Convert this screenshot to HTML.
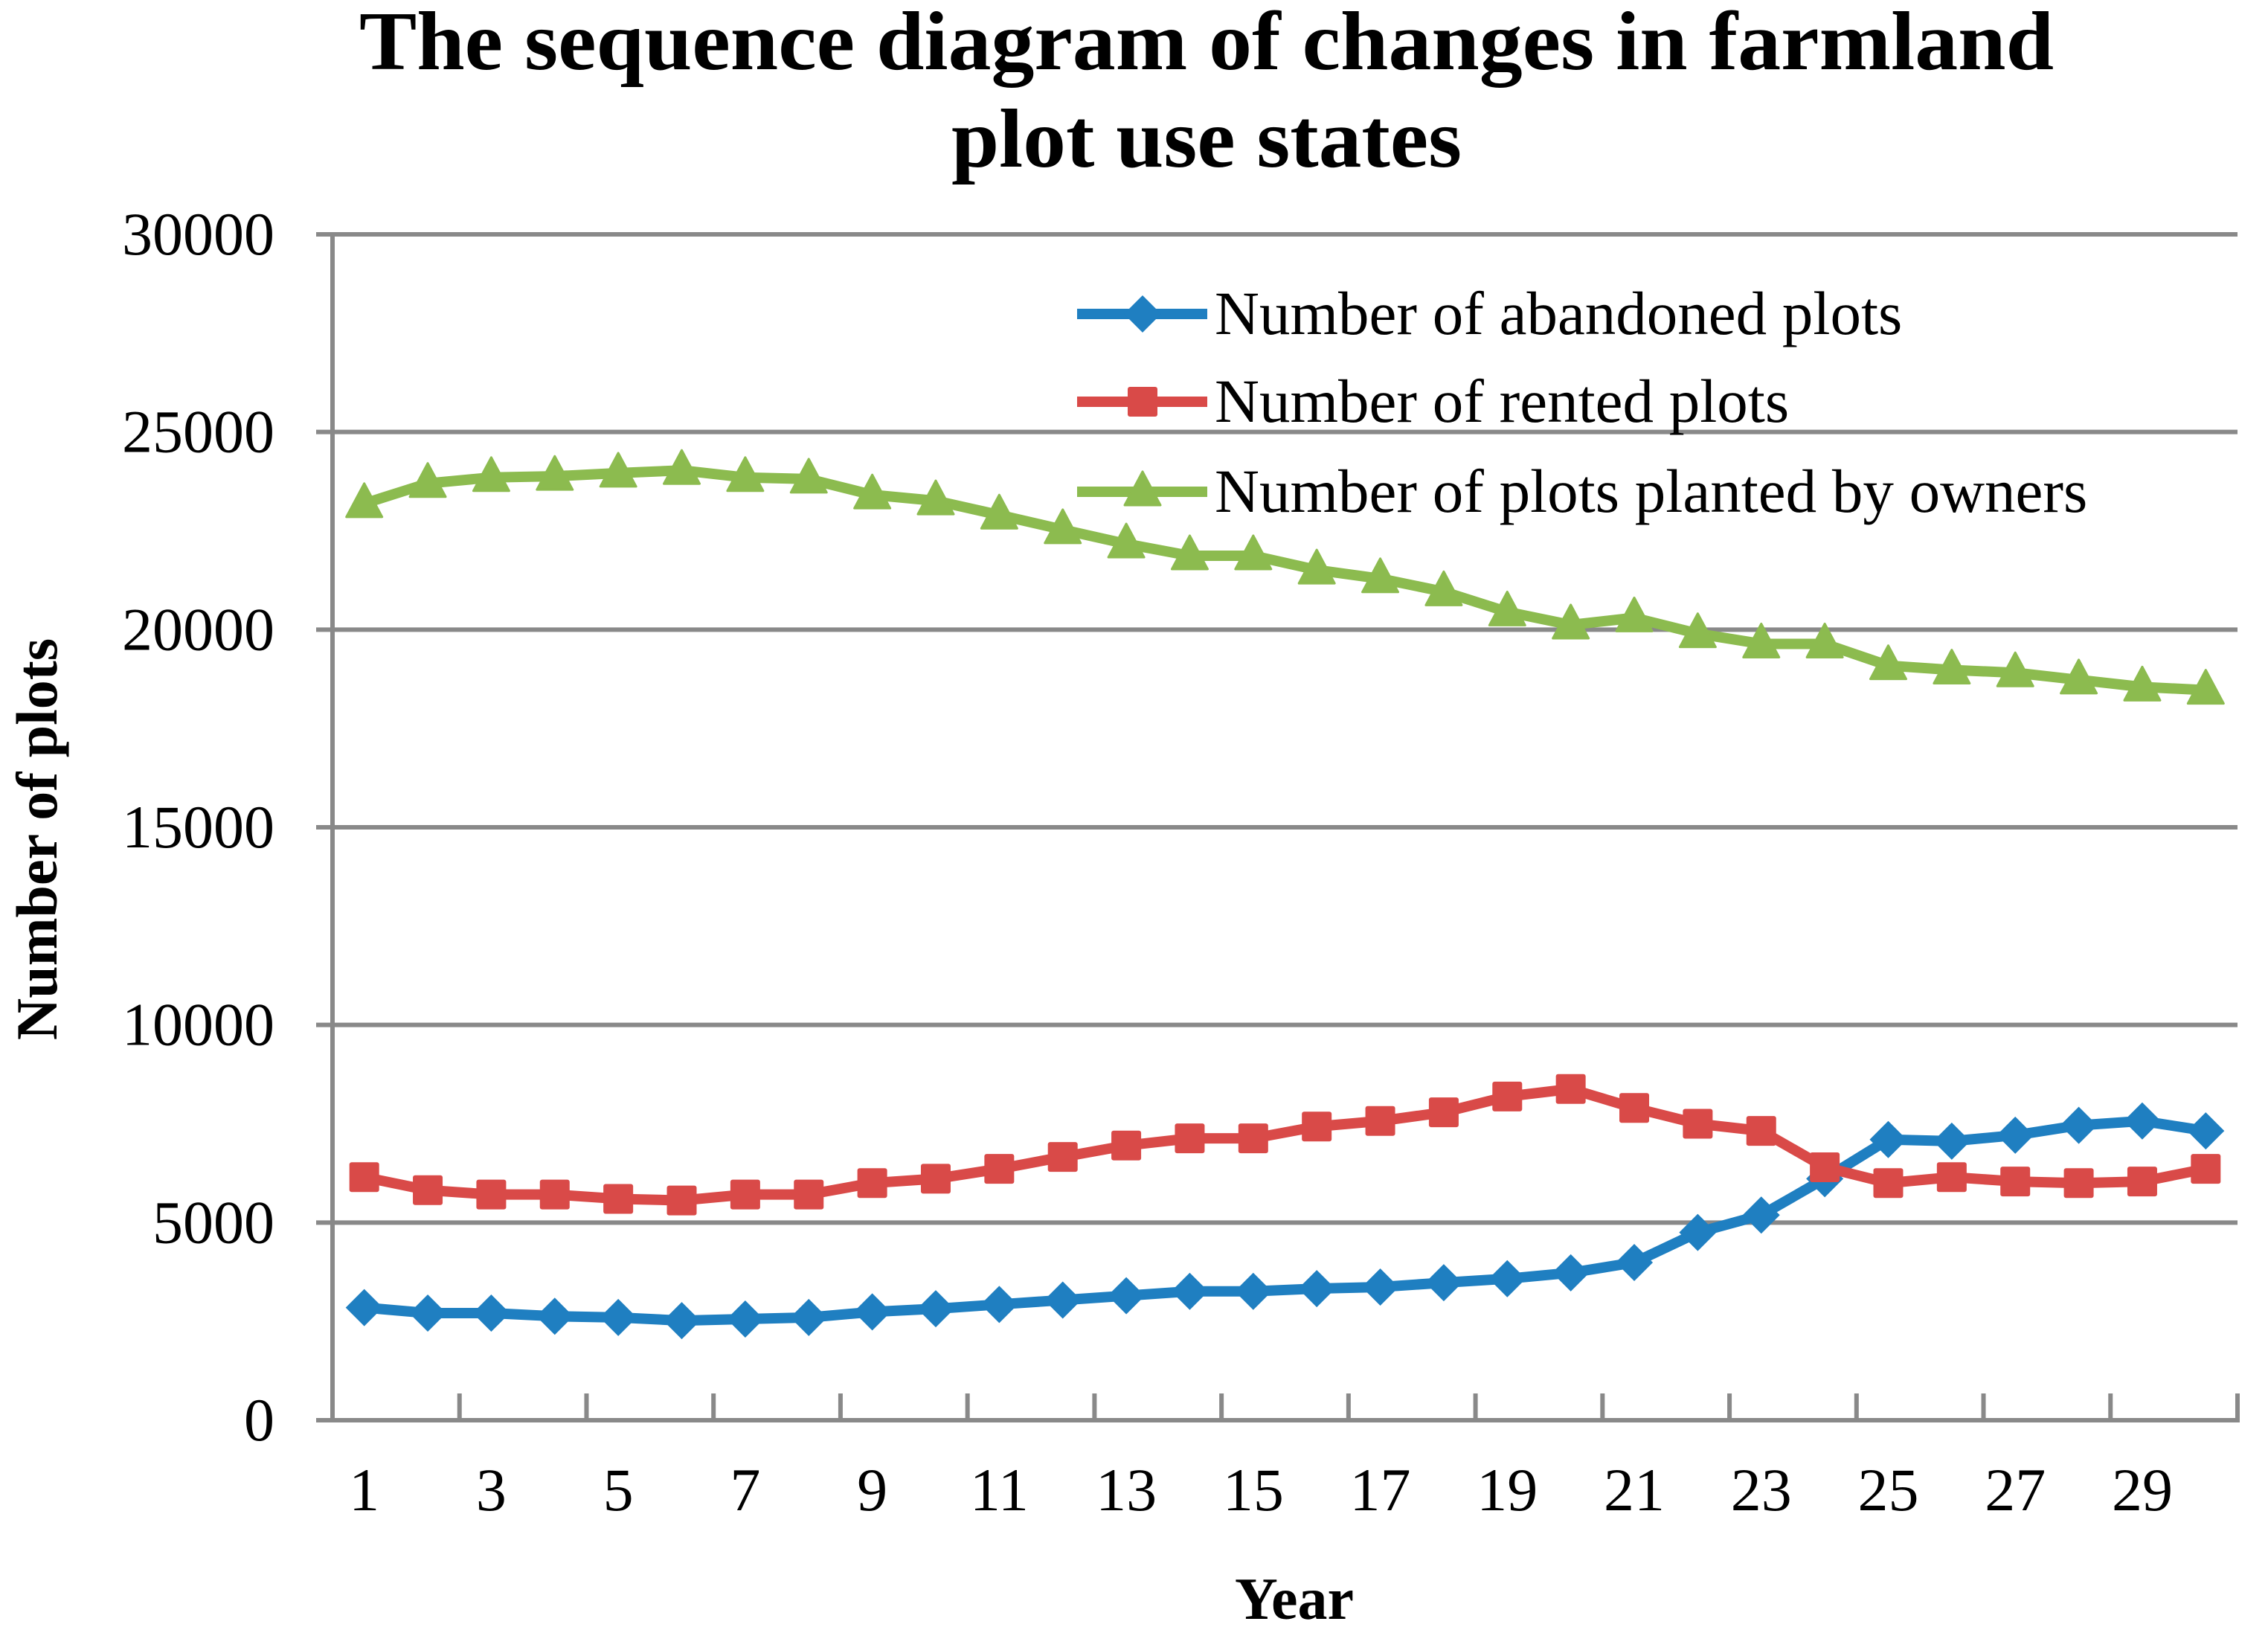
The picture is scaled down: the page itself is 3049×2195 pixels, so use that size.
<!DOCTYPE html>
<html><head><meta charset="utf-8"><style>
html,body{margin:0;padding:0;background:#fff}
svg{display:block}
text{font-family:"Liberation Serif",serif;fill:#000}
</style></head><body>
<svg id="chart" width="3049" height="2195" viewBox="0 0 3049 2195" xmlns="http://www.w3.org/2000/svg">
<text x="1622" y="93" text-anchor="middle" font-size="112" font-weight="bold" textLength="2278" lengthAdjust="spacingAndGlyphs">The sequence diagram of changes in farmland</text>
<text x="1622" y="224" text-anchor="middle" font-size="112" font-weight="bold" textLength="686" lengthAdjust="spacingAndGlyphs">plot use states</text>
<g id="grid"></g>
<g id="axes"></g>
<g id="series"></g>
<text transform="translate(76,1128) rotate(-90)" text-anchor="middle" font-size="78" font-weight="bold">Number of plots</text>
<text x="1740" y="2176" text-anchor="middle" font-size="80" font-weight="bold">Year</text>
<g id="legend"></g>
</svg>
<script>
const categories = [1,2,3,4,5,6,7,8,9,10,11,12,13,14,15,16,17,18,19,20,21,22,23,24,25,26,27,28,29,30];
const xTickLabels = ["1","3","5","7","9","11","13","15","17","19","21","23","25","27","29"];
const yTicks = [0,5000,10000,15000,20000,25000,30000];
const abandoned = [2850,2710,2710,2630,2600,2520,2560,2600,2740,2820,2930,3040,3150,3260,3260,3330,3370,3480,3580,3730,3990,4750,5190,6110,7100,7060,7210,7460,7570,7320];
const rented = [6150,5820,5710,5710,5600,5560,5710,5710,6000,6110,6360,6660,6950,7130,7130,7430,7570,7790,8190,8380,7900,7500,7320,6400,6000,6150,6040,6000,6040,6360];
const owners = [23190,23700,23850,23880,23960,24030,23850,23810,23410,23260,22900,22530,22170,21870,21870,21510,21290,20960,20450,20120,20300,19900,19640,19640,19090,18980,18910,18730,18550,18470];
const seriesNames = ["Number of abandoned plots","Number of rented plots","Number of plots planted by owners"];

const NS="http://www.w3.org/2000/svg";
const X0=447, X1=3008, Y0=1909, Y1=315, YMAX=30000;
const step=(X1-X0)/categories.length;
const xs=i=>X0+step*(i+0.5);
const ys=v=>Y0-(v/YMAX)*(Y0-Y1);
function mk(tag,attrs,parent){const e=document.createElementNS(NS,tag);for(const k in attrs)e.setAttribute(k,attrs[k]);parent.appendChild(e);return e;}
const grid=document.getElementById('grid'),axes=document.getElementById('axes'),ser=document.getElementById('series'),leg=document.getElementById('legend');
const GC="#898989";
yTicks.forEach(v=>{
  if(v>0){const l=mk('line',{x1:X0-22,x2:X1,y1:ys(v),y2:ys(v),stroke:GC,'stroke-width':6},grid);
  
  }
  const t=mk('text',{x:369,y:ys(v)+27,'text-anchor':'end','font-size':82},axes);
  t.textContent=String(v);
  
  
});
const ya=mk('line',{x1:X0,x2:X0,y1:Y1,y2:Y0,stroke:GC,'stroke-width':6},axes);


const xa=mk('line',{x1:X0-22,x2:X1+3,y1:Y0,y2:Y0,stroke:GC,'stroke-width':6},axes);


for(let b=2;b<=categories.length;b+=2){
  const x=X0+step*b;
  const tk=mk('line',{x1:x,x2:x,y1:Y0,y2:Y0-36,stroke:GC,'stroke-width':6},axes);
  
  
}
xTickLabels.forEach((lab,j)=>{
  const i=categories.indexOf(Number(lab));
  const t=mk('text',{x:xs(i),y:2030,'text-anchor':'middle','font-size':82},axes);
  t.textContent=lab;
  
  
});
function marker(type,x,y,color,parent){
  let e;
  if(type==='diamond') e=mk('polygon',{points:`${x},${y-25} ${x+25},${y} ${x},${y+25} ${x-25},${y}`,fill:color},parent);
  else if(type==='square') e=mk('rect',{x:x-20,y:y-20,width:40,height:40,fill:color,rx:3},parent);
  else e=mk('polygon',{points:`${x},${y-27} ${x+24},${y+18} ${x-24},${y+18}`,fill:color,'stroke':color,'stroke-width':3,'stroke-linejoin':'round'},parent);
  return e;
}
const defs=[{d:abandoned,c:"#1f7fc1",m:'diamond',n:'abandoned'},{d:rented,c:"#d94a48",m:'square',n:'rented'},{d:owners,c:"#8cbb4f",m:'triangle',n:'owners'}];
defs.forEach((s,k)=>{
  const g=mk('g',{},ser);
  
  
  const pts=s.d.map((v,i)=>xs(i)+','+ys(v)).join(' ');
  const pl=mk('polyline',{points:pts,fill:'none',stroke:s.c,'stroke-width':14,'stroke-linejoin':'round'},g);
  
  
  s.d.forEach((v,i)=>{
    const p=marker(s.m,xs(i),ys(v),s.c,g);
    
    
  });
  const ly=[422,540,661][k];
  const lg=mk('g',{},leg);
  
  
  mk('line',{x1:1448,x2:1623,y1:ly,y2:ly,stroke:s.c,'stroke-width':14},lg);
  marker(s.m,1536,ly,s.c,lg);
  const t=mk('text',{x:1633,y:ly+27,'font-size':83},lg);
  t.textContent=seriesNames[k];
});
</script>
</body></html>
